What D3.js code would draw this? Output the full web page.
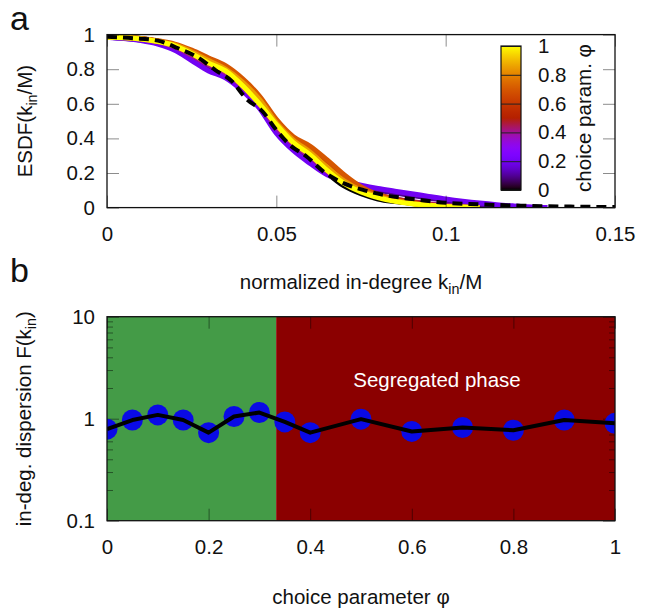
<!DOCTYPE html>
<html lang="en">
<head>
  <meta charset="UTF-8">
  <title>ESDF and in-degree dispersion</title>
  <script src="https://d3js.org/d3.v7.min.js"></script>
  <style>
    body { margin: 0; background: #fff; }
    text { font-family: "Liberation Sans", Arial, sans-serif; fill: #111; }
  </style>
</head>
<body>
  <svg width="654" height="610" id="fig"></svg>
  <script>
    // ---- panel a: ESDF of normalized in-degree, one curve per choice parameter
    const kx = [0, 0.005, 0.01, 0.015, 0.02, 0.025, 0.03, 0.035, 0.04, 0.045, 0.05, 0.055, 0.06, 0.065,
      0.07, 0.075, 0.08, 0.085, 0.09, 0.095, 0.1, 0.105, 0.11, 0.115, 0.12, 0.125, 0.13];
    const phiCurves = [0, 0.1, 0.2, 0.4, 0.55, 0.7, 0.85, 1];
    const esdf = [
      [0.99, 0.985, 0.978, 0.962, 0.938, 0.9, 0.86, 0.8, 0.715, 0.61, 0.47, 0.36, 0.29, 0.2, 0.125, 0.08, 0.05, 0.035, 0.025, 0.017, 0.011, 0.006, 0.003, 0],
      [0.985, 0.978, 0.968, 0.95, 0.92, 0.865, 0.805, 0.765, 0.69, 0.59, 0.45, 0.345, 0.28, 0.205, 0.15, 0.12, 0.1, 0.085, 0.07, 0.055, 0.042, 0.03, 0.02, 0.012, 0.006, 0.002, 0],
      [0.985, 0.977, 0.965, 0.945, 0.91, 0.85, 0.79, 0.75, 0.675, 0.575, 0.43, 0.33, 0.255, 0.19, 0.155, 0.13, 0.11, 0.095, 0.08, 0.065, 0.05, 0.037, 0.026, 0.017, 0.01, 0.004, 0],
      [0.987, 0.982, 0.974, 0.958, 0.93, 0.88, 0.825, 0.78, 0.7, 0.6, 0.465, 0.365, 0.295, 0.21, 0.145, 0.1, 0.07, 0.05, 0.035, 0.022, 0.012, 0.005, 0],
      [0.987, 0.983, 0.976, 0.962, 0.94, 0.9, 0.85, 0.8, 0.725, 0.625, 0.49, 0.385, 0.325, 0.245, 0.165, 0.11, 0.075, 0.05, 0.032, 0.018, 0.008, 0.002, 0],
      [0.987, 0.984, 0.978, 0.965, 0.945, 0.91, 0.865, 0.82, 0.745, 0.645, 0.51, 0.41, 0.355, 0.275, 0.19, 0.12, 0.075, 0.045, 0.025, 0.012, 0.004, 0],
      [0.987, 0.983, 0.976, 0.962, 0.94, 0.9, 0.85, 0.8, 0.725, 0.625, 0.49, 0.39, 0.32, 0.235, 0.155, 0.1, 0.065, 0.04, 0.024, 0.013, 0.006, 0.002, 0],
      [0.985, 0.982, 0.975, 0.96, 0.935, 0.89, 0.835, 0.79, 0.705, 0.6, 0.48, 0.375, 0.305, 0.215, 0.14, 0.09, 0.058, 0.036, 0.022, 0.013, 0.007, 0.003, 0]
    ];
    // dashed reference curve
    const fitX = [0, 0.008, 0.015, 0.021, 0.0265, 0.032, 0.037, 0.041, 0.046, 0.05, 0.054, 0.059, 0.064, 0.07, 0.076, 0.082, 0.09, 0.1, 0.11, 0.122, 0.13, 0.14, 0.15];
    const fitY = [0.988, 0.979, 0.965, 0.921, 0.872, 0.795, 0.728, 0.632, 0.554, 0.449, 0.362, 0.294, 0.207, 0.14, 0.1, 0.072, 0.05, 0.028, 0.019, 0.011, 0.008, 0.005, 0.003];
    const ticksK = [0, 0.05, 0.1, 0.15];
    const ticksE = [0, 0.2, 0.4, 0.6, 0.8, 1];
    const ticksCb = [0, 0.2, 0.4, 0.6, 0.8, 1];

    // ---- panel b: in-degree dispersion vs choice parameter
    const phiPts = [0, 0.05, 0.1, 0.15, 0.2, 0.25, 0.3, 0.35, 0.4, 0.5, 0.6, 0.7, 0.8, 0.9, 1];
    const dispersion = [0.79, 0.97, 1.09, 0.97, 0.73, 1.05, 1.15, 0.93, 0.73, 0.99, 0.75, 0.82, 0.77, 0.97, 0.9];
    const ticksPhi = [0, 0.2, 0.4, 0.6, 0.8, 1];
    const ticksF = [0.1, 1, 10];
    const phaseSplit = 0.333;

    const svg = d3.select('#fig');
    const xLeft = 107, xRight = 615;
    const aTop = 34.6, aBottom = 207.6;
    const bTop = 316.7, bBottom = 520.7;
    const fs = 20.5;

    // gnuplot default palette (rgbformulae 7,5,15)
    function palette(t) {
      const r = Math.sqrt(t), g = t * t * t, b = Math.max(0, Math.sin(2 * Math.PI * t));
      return d3.rgb(r * 255, g * 255, b * 255).toString();
    }

    const xK = d3.scaleLinear().domain([0, 0.15]).range([xLeft, xRight]);
    const yE = d3.scaleLinear().domain([0, 1]).range([aBottom, aTop]);
    const xPhi = d3.scaleLinear().domain([0, 1]).range([xLeft, xRight]);
    const yF = d3.scaleLog().domain([0.1, 10]).range([bBottom, bTop]);

    const defs = svg.append('defs');
    defs.append('clipPath').attr('id', 'clipA').append('rect')
      .attr('x', xLeft).attr('y', aTop).attr('width', xRight - xLeft).attr('height', aBottom - aTop);
    defs.append('clipPath').attr('id', 'clipB').append('rect')
      .attr('x', xLeft).attr('y', bTop).attr('width', xRight - xLeft).attr('height', bBottom - bTop);

    // inward ticks on all four sides, labels bottom and left
    function frameTicks(x, y, xt, yt, top, bottom) {
      svg.append('g').attr('class', 'frame').attr('transform', `translate(0,${bottom})`)
        .call(d3.axisBottom(x).tickValues(xt).tickSize(-12).tickPadding(19).tickFormat(d3.format('')));
      svg.append('g').attr('class', 'frame').attr('transform', `translate(0,${top})`)
        .call(d3.axisTop(x).tickValues(xt).tickSize(-12).tickFormat(''));
      svg.append('g').attr('class', 'frame').attr('transform', `translate(${xLeft},0)`)
        .call(d3.axisLeft(y).tickValues(yt).tickSize(-12).tickPadding(12).tickFormat(d3.format('')));
      svg.append('g').attr('class', 'frame').attr('transform', `translate(${xRight},0)`)
        .call(d3.axisRight(y).tickValues(yt).tickSize(-12).tickFormat(''));
      svg.selectAll('.domain').remove();
    }

    // ================= panel a =================
    const lineE = d3.line()
      .defined(d => d[1] != null)
      .x(d => xK(d[0])).y(d => yE(d[1]))
      .curve(d3.curveMonotoneX);

    svg.append('g').attr('clip-path', 'url(#clipA)')
      .selectAll('path.esdf').data(esdf).join('path')
      .attr('class', 'esdf')
      .attr('d', ys => lineE(ys.map((y, i) => [kx[i], y])))
      .attr('fill', 'none')
      .attr('stroke', (ys, i) => palette(phiCurves[i]))
      .attr('stroke-width', 5)
      .attr('stroke-linejoin', 'round');

    svg.append('path')
      .attr('clip-path', 'url(#clipA)')
      .attr('d', lineE(fitX.map((k, i) => [k, fitY[i]])))
      .attr('fill', 'none')
      .attr('stroke', '#000')
      .attr('stroke-width', 4)
      .attr('stroke-dasharray', '10,6');

    frameTicks(xK, yE, ticksK, ticksE, aTop, aBottom);
    svg.append('rect')
      .attr('x', xLeft).attr('y', aTop).attr('width', xRight - xLeft).attr('height', aBottom - aTop)
      .attr('fill', 'none').attr('stroke', '#111').attr('stroke-width', 1.3);

    // colorbar
    const cbX = 501, cbW = 20, cbTop = 46, cbBottom = 190;
    const yCb = d3.scaleLinear().domain([0, 1]).range([cbBottom, cbTop]);
    const grad = defs.append('linearGradient').attr('id', 'cbGrad')
      .attr('x1', 0).attr('y1', 1).attr('x2', 0).attr('y2', 0);
    d3.range(0, 1.0001, 0.02).forEach(t => {
      grad.append('stop').attr('offset', t).attr('stop-color', palette(t));
    });
    svg.append('rect')
      .attr('x', cbX).attr('y', cbTop).attr('width', cbW).attr('height', cbBottom - cbTop)
      .attr('fill', 'url(#cbGrad)');
    svg.append('g').attr('transform', `translate(${cbX},0)`)
      .call(d3.axisLeft(yCb).tickValues(ticksCb).tickSize(-cbW).tickFormat(''))
      .call(g => g.select('.domain').remove());
    svg.append('g').attr('transform', `translate(${cbX + cbW},0)`)
      .call(d3.axisRight(yCb).tickValues(ticksCb).tickSize(0).tickPadding(17).tickFormat(d3.format('')))
      .call(g => g.select('.domain').remove());
    svg.append('rect')
      .attr('x', cbX).attr('y', cbTop).attr('width', cbW).attr('height', cbBottom - cbTop)
      .attr('fill', 'none').attr('stroke', '#111').attr('stroke-width', 1.2);

    svg.selectAll('.tick text').attr('font-size', fs).attr('font-family', null).style('fill', '#111');
    svg.selectAll('.tick line').attr('stroke', '#222');

    // ================= panel b =================
    svg.append('rect')
      .attr('x', xPhi(0)).attr('y', bTop)
      .attr('width', xPhi(phaseSplit) - xPhi(0)).attr('height', bBottom - bTop)
      .attr('fill', '#449b47');
    svg.append('rect')
      .attr('x', xPhi(phaseSplit)).attr('y', bTop)
      .attr('width', xPhi(1) - xPhi(phaseSplit)).attr('height', bBottom - bTop)
      .attr('fill', '#8b0000');

    const gTicksB = svg.append('g').attr('id', 'ticksB');
    frameTicks(xPhi, yF, ticksPhi, ticksF, bTop, bBottom);
    // minor log ticks
    const minor = yF.ticks().filter(v => !ticksF.includes(v));
    svg.append('g').attr('class', 'minor').attr('transform', `translate(${xLeft},0)`)
      .call(d3.axisLeft(yF).tickValues(minor).tickSize(-6).tickFormat(''))
      .call(g => g.select('.domain').remove());
    svg.append('g').attr('class', 'minor').attr('transform', `translate(${xRight},0)`)
      .call(d3.axisRight(yF).tickValues(minor).tickSize(-6).tickFormat(''))
      .call(g => g.select('.domain').remove());

    // ticks over the coloured background are dimmed
    svg.selectAll('g.frame, g.minor').filter(function () {
      const t = d3.select(this).attr('transform');
      return t.includes(`,${bTop})`) || t.includes(`,${bBottom})`) || d3.select(this).classed('minor') ||
        d3.select(this).selectAll('.tick').data().some(v => ticksF.includes(v));
    }).selectAll('.tick line').attr('stroke', '#000').attr('stroke-opacity', 0.45);

    svg.append('text').text('Segregated phase')
      .attr('x', 437).attr('y', 387)
      .attr('text-anchor', 'middle')
      .attr('font-size', fs)
      .style('fill', '#fff');

    const gB = svg.append('g').attr('clip-path', 'url(#clipB)');
    gB.selectAll('circle').data(phiPts).join('circle')
      .attr('cx', d => xPhi(d))
      .attr('cy', (d, i) => yF(dispersion[i]))
      .attr('r', 10.5)
      .attr('fill', '#0a0ae6');
    gB.append('path')
      .attr('d', d3.line().x(d => xPhi(d)).y((d, i) => yF(dispersion[i]))(phiPts))
      .attr('fill', 'none').attr('stroke', '#000').attr('stroke-width', 4)
      .attr('stroke-linejoin', 'round');

    svg.append('rect')
      .attr('x', xLeft).attr('y', bTop).attr('width', xRight - xLeft).attr('height', bBottom - bTop)
      .attr('fill', 'none').attr('stroke', '#111').attr('stroke-width', 1.3);

    svg.selectAll('.tick text').attr('font-size', fs).attr('font-family', null).style('fill', '#111');

    // ================= labels =================
    function subLabel(sel, parts) {
      parts.forEach(p => {
        const ts = sel.append('tspan').text(p.t);
        if (p.sub) ts.attr('dy', 5).attr('font-size', fs * 0.7);
        if (p.up) ts.attr('dy', -5);
      });
      return sel;
    }

    subLabel(svg.append('text').attr('x', 361).attr('y', 289)
      .attr('text-anchor', 'middle').attr('font-size', fs),
      [{ t: 'normalized in-degree k' }, { t: 'in', sub: true }, { t: '/M', up: true }]);

    subLabel(svg.append('text')
      .attr('transform', `translate(32,${(aTop + aBottom) / 2}) rotate(-90)`)
      .attr('text-anchor', 'middle').attr('font-size', fs),
      [{ t: 'ESDF(k' }, { t: 'in', sub: true }, { t: '/M)', up: true }]);

    svg.append('text').text('choice param. φ')
      .attr('transform', `translate(591,${(cbTop + cbBottom) / 2}) rotate(-90)`)
      .attr('text-anchor', 'middle').attr('font-size', fs);

    svg.append('text').text('choice parameter φ')
      .attr('x', 361).attr('y', 604)
      .attr('text-anchor', 'middle').attr('font-size', fs);

    subLabel(svg.append('text')
      .attr('transform', `translate(31,${(bTop + bBottom) / 2}) rotate(-90)`)
      .attr('text-anchor', 'middle').attr('font-size', fs),
      [{ t: 'in-deg. dispersion F(k' }, { t: 'in', sub: true }, { t: ')', up: true }]);

    svg.append('text').text('a').attr('x', 10).attr('y', 30).attr('font-size', 34);
    svg.append('text').text('b').attr('x', 10).attr('y', 282).attr('font-size', 34);
  </script>
</body>
</html>
